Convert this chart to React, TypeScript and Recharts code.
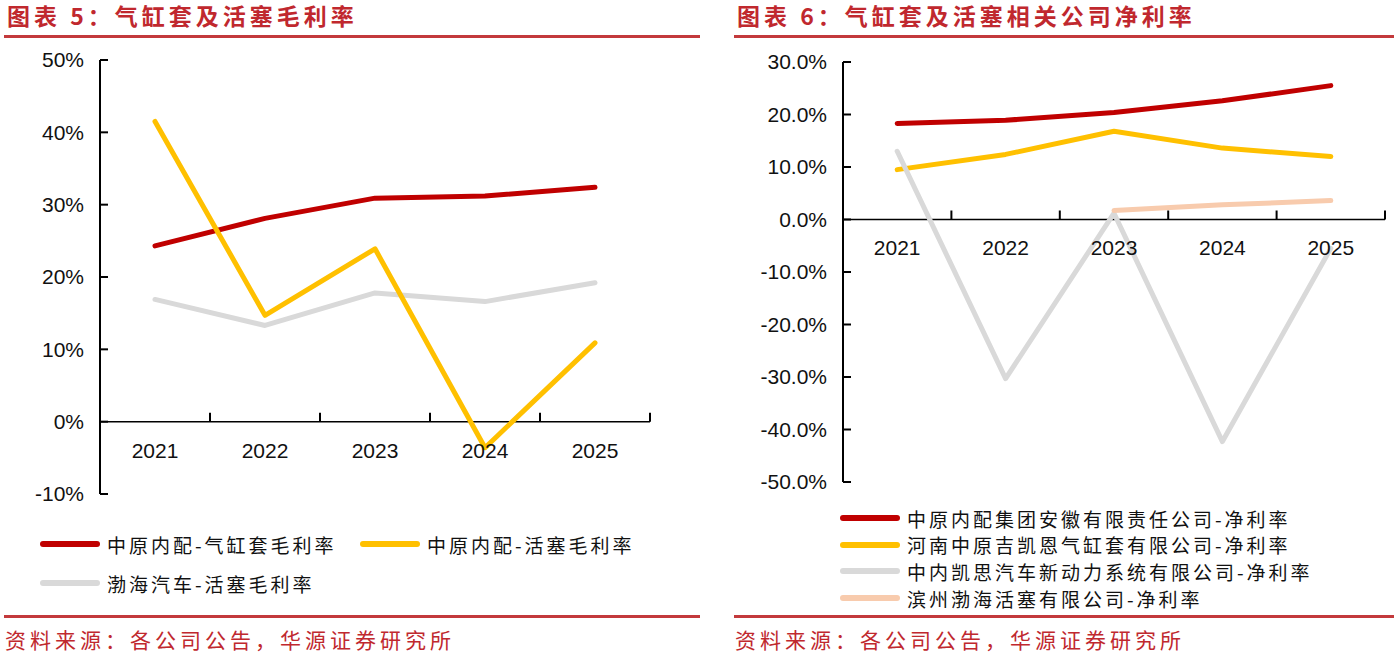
import React from "react";
import { LineChart, Line, XAxis, YAxis, ReferenceLine, ReferenceDot } from "recharts";

/* ── shared categories ─────────────────────────────── */
const years = ["2021", "2022", "2023", "2024", "2025"];

/* ── 图表5：气缸套及活塞毛利率 (%) ─────────────────── */
const grossTicks = [-10, 0, 10, 20, 30, 40, 50];
const zynpLinerGross = [24.3, 28.1, 30.9, 31.2, 32.4];
const zynpPistonGross = [41.5, 14.7, 23.9, -3.6, 10.9];
const bohaiPistonGross = [16.9, 13.3, 17.8, 16.6, 19.2];

/* ── 图表6：相关公司净利率 (%) ──────────────────────── */
const netTicks = [-50, -40, -30, -20, -10, 0, 10, 20, 30];
const zynpAnhuiNet = [18.3, 18.9, 20.4, 22.6, 25.5];
const kaiEnLinerNet = [9.5, 12.4, 16.8, 13.6, 12.0];
const kaiEnPowerNet = [13.0, -30.3, 1.2, -42.3, -5.5];
const binzhouPistonNet = [null, null, 1.7, 2.8, 3.6];

const RED = "#C00000";
const YELLOW = "#FFC000";
const GRAY = "#D9D9D9";
const PEACH = "#F8CBAD";
const TITLE_RED = "#C0282E";
const RULE_RED = "#C3393C";
const numFont = "'Liberation Sans', Arial, sans-serif";
const cjkFont = "'Noto Sans CJK SC', sans-serif";

const grossSeries = [
  { key: "a", name: "中原内配-气缸套毛利率", color: RED, values: zynpLinerGross },
  { key: "b", name: "中原内配-活塞毛利率", color: YELLOW, values: zynpPistonGross },
  { key: "c", name: "渤海汽车-活塞毛利率", color: GRAY, values: bohaiPistonGross },
];

const netSeries = [
  { key: "a", name: "中原内配集团安徽有限责任公司-净利率", color: RED, values: zynpAnhuiNet },
  { key: "b", name: "河南中原吉凯恩气缸套有限公司-净利率", color: YELLOW, values: kaiEnLinerNet },
  { key: "c", name: "中内凯思汽车新动力系统有限公司-净利率", color: GRAY, values: kaiEnPowerNet },
  { key: "d", name: "滨州渤海活塞有限公司-净利率", color: PEACH, values: binzhouPistonNet },
];

function buildRows(series: any[]) {
  return years.map((year, i) => {
    const row: any = { x: i + 0.5, year };
    series.forEach((s) => (row[s.key] = s.values[i]));
    return row;
  });
}

// category boundary tick, drawn upward from the zero line
const tickMark = (p: any) => (
  <line x1={p.cx} x2={p.cx} y1={p.cy} y2={p.cy - 9} stroke="#000" strokeWidth={2} />
);

function LegendItem({ s }: { s: any }) {
  return (
    <div style={{ display: "flex", alignItems: "center", height: 26 }}>
      <div style={{ width: 60, height: 6, borderRadius: 3, background: s.color, marginRight: 7 }} />
      <span style={{ fontFamily: cjkFont, fontSize: 19, letterSpacing: 3, color: "#111", whiteSpace: "nowrap" }}>
        {s.name}
      </span>
    </div>
  );
}

function Panel(props: any) {
  const { left, title, width, height, margin, yWidth, ticks, fmt, series, order, legend } = props;
  const rows = buildRows(series);
  return (
    <div style={{ position: "absolute", left, top: 0, width, height: 661 }}>
      <div
        style={{
          position: "absolute", left: 7, top: 4, fontFamily: cjkFont, fontWeight: 700,
          fontSize: 23, lineHeight: "23px", letterSpacing: 4, color: TITLE_RED, whiteSpace: "nowrap",
        }}
      >
        {title}
      </div>
      <div style={{ position: "absolute", left: 4, right: 0, top: 35, height: 2.5, background: RULE_RED }} />
      <div style={{ position: "absolute", left: 0, top: 0 }}>
        <LineChart width={width} height={height} data={rows} margin={margin}>
          <XAxis type="number" dataKey="x" domain={[0, years.length]} hide />
          <YAxis
            domain={[ticks[0], ticks[ticks.length - 1]]}
            ticks={ticks}
            interval={0}
            width={yWidth}
            tickFormatter={fmt}
            axisLine={{ stroke: "#000", strokeWidth: 2 }}
            tickLine={{ stroke: "#000", strokeWidth: 2 }}
            tickSize={-8}
            tickMargin={24}
            tick={{ fill: "#111", fontSize: 21, fontFamily: numFont }}
          />
          <ReferenceLine y={0} stroke="#000" strokeWidth={1.5} />
          {years.map((_, i) => (
            <ReferenceDot key={"t" + i} x={i + 1} y={0} r={0} shape={tickMark} />
          ))}
          {years.map((y, i) => (
            <ReferenceDot
              key={"l" + i}
              x={i + 0.5}
              y={0}
              r={0}
              fill="none"
              stroke="none"
              label={{ value: y, position: "bottom", offset: 21, fill: "#111", fontSize: 21, fontFamily: numFont }}
            />
          ))}
          {order.map((k: string) => {
            const s = series.find((d: any) => d.key === k);
            return (
              <Line
                key={k}
                type="linear"
                dataKey={k}
                name={s.name}
                stroke={s.color}
                strokeWidth={5}
                strokeLinecap="round"
                strokeLinejoin="round"
                dot={false}
                activeDot={false}
                isAnimationActive={false}
              />
            );
          })}
        </LineChart>
      </div>
      <div style={{ position: "absolute", ...legend.box, display: "grid", gridTemplateColumns: legend.cols, rowGap: legend.gap }}>
        {series.map((s: any) => (
          <LegendItem key={s.key} s={s} />
        ))}
      </div>
      <div style={{ position: "absolute", left: 4, right: 0, top: 615, height: 2.5, background: RULE_RED }} />
      <div
        style={{
          position: "absolute", left: 5, top: 629, fontFamily: cjkFont, fontSize: 21, lineHeight: "21px",
          letterSpacing: 4, color: TITLE_RED, whiteSpace: "nowrap",
        }}
      >
        资料来源：各公司公告，华源证券研究所
      </div>
    </div>
  );
}

export default function App() {
  return (
    <div style={{ position: "absolute", left: 0, top: 0, width: 1394, height: 661, background: "#fff" }}>
      <Panel
        left={0}
        width={700}
        height={520}
        title="图表 5：气缸套及活塞毛利率"
        margin={{ top: 60, right: 50, left: 40, bottom: 26 }}
        yWidth={60}
        ticks={grossTicks}
        fmt={(v: number) => `${v}%`}
        series={grossSeries}
        order={["c", "a", "b"]}
        legend={{ box: { left: 40, top: 531 }, cols: "320px 320px", gap: 13 }}
      />
      <Panel
        left={730}
        width={664}
        height={500}
        title="图表 6：气缸套及活塞相关公司净利率"
        margin={{ top: 62, right: 9, left: 43, bottom: 18 }}
        yWidth={70}
        ticks={netTicks}
        fmt={(v: number) => `${v.toFixed(1)}%`}
        series={netSeries}
        order={["a", "b", "c", "d"]}
        legend={{ box: { left: 110, top: 505 }, cols: "560px", gap: 0.7 }}
      />
    </div>
  );
}
